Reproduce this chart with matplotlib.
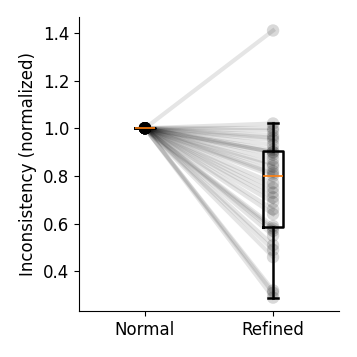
import matplotlib
matplotlib.use("Agg")
import matplotlib.pyplot as plt
import numpy as np

conditions = ["Normal", "Refined"]
refined = [0.29, 0.31, 0.32, 0.46, 0.49, 0.51, 0.55, 0.57, 0.58, 0.59,
           0.64, 0.66, 0.69, 0.71, 0.73, 0.75, 0.77, 0.80, 0.81, 0.82,
           0.84, 0.85, 0.87, 0.89, 0.90, 0.90, 0.91, 0.93, 0.95, 0.96,
           0.97, 0.99, 1.00, 1.02, 1.41]
normal = [1.0] * len(refined)

plt.rcParams["font.size"] = 12

fig = plt.figure(figsize=(3.57, 3.57), dpi=100)
ax = fig.add_axes([0.221, 0.129, 0.729, 0.823])

# paired lines per sample
for a, b in zip(normal, refined):
    ax.plot([1, 2], [a, b], color="k", alpha=0.1, linewidth=3, zorder=1)
ax.scatter([1] * len(normal), normal, color="k", alpha=0.15, s=80,
           edgecolors="none", zorder=2)
ax.scatter([2] * len(refined), refined, color="k", alpha=0.15, s=80,
           edgecolors="none", zorder=2)

ax.boxplot([normal, refined], positions=[1, 2], widths=0.16,
           showfliers=False,
           boxprops=dict(color="k", linewidth=1.8),
           whiskerprops=dict(color="k", linewidth=1.8),
           capprops=dict(color="k", linewidth=1.8),
           medianprops=dict(color="C1", linewidth=1.2),
           zorder=3)

ax.set_xlim(0.484, 2.516)
ax.set_xticks([1, 2])
ax.set_xticklabels(conditions)
ax.set_ylabel("Inconsistency (normalized)")
ax.spines["top"].set_visible(False)
ax.spines["right"].set_visible(False)

fig.savefig("out.png", dpi=100)
